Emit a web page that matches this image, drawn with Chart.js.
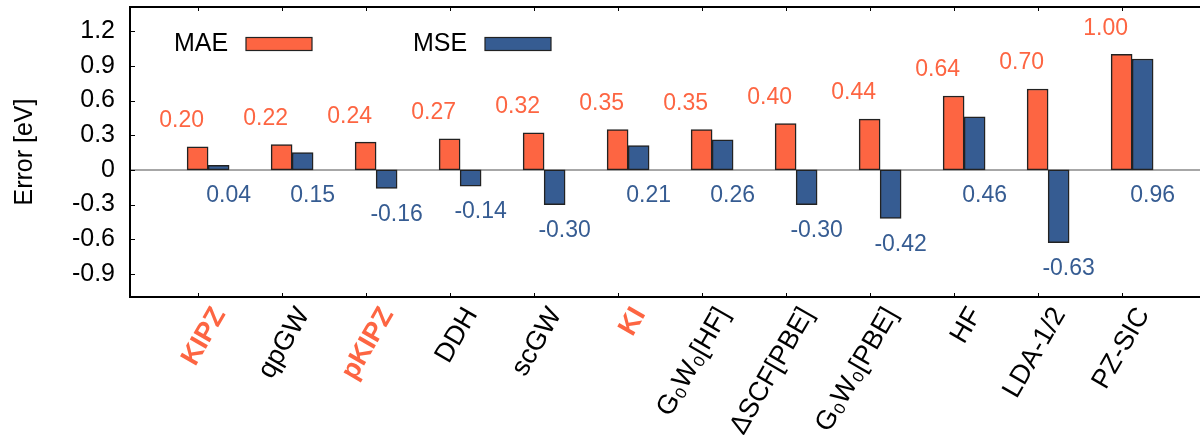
<!DOCTYPE html>
<html>
<head>
<meta charset="utf-8">
<script src="https://cdn.jsdelivr.net/npm/chart.js@4/dist/chart.umd.min.js"></script>
<style>
  html, body { margin: 0; padding: 0; background: #fff; overflow: hidden; }
  #wrap { width: 1200px; height: 435px; }
</style>
</head>
<body>
<div id="wrap"><canvas id="errChart" width="1200" height="435"></canvas></div>
<script>
// --- data ---
const methods = ['KIPZ', 'qpGW', 'pKIPZ', 'DDH', 'scGW', 'KI', 'G\u2080W\u2080[HF]', '\u0394SCF[PBE]', 'G\u2080W\u2080[PBE]', 'HF', 'LDA-1/2', 'PZ-SIC'];
const mae = [0.20, 0.22, 0.24, 0.27, 0.32, 0.35, 0.35, 0.40, 0.44, 0.64, 0.70, 1.00];
const mse = [0.04, 0.15, -0.16, -0.14, -0.30, 0.21, 0.26, -0.30, -0.42, 0.46, -0.63, 0.96];
const highlighted = ['KIPZ', 'pKIPZ', 'KI'];
const yTicks = [-0.9, -0.6, -0.3, 0, 0.3, 0.6, 0.9, 1.2];

const ORANGE = '#fd6542';
const BLUE = '#365c92';
const FONT = "'Liberation Sans', Arial, sans-serif";

const X_MIN = -0.805, X_MAX = 11.933;
const Y_MIN = -1.1, Y_MAX = 1.41;
const BAR_W = 21;
const SHIFT = BAR_W / 84; // MSE bar sits right next to the MAE bar

// frame, inner ticks, zero line, legend, value labels
const framePlugin = {
    id: 'frame',
    beforeDatasetsDraw(chart) {
        const { ctx, chartArea: a, scales } = chart;
        const y0 = scales.y.getPixelForValue(0);
        ctx.save();
        ctx.strokeStyle = '#8a8a8a';
        ctx.lineWidth = 1.5;
        ctx.beginPath();
        ctx.moveTo(a.left, y0);
        ctx.lineTo(a.right, y0);
        ctx.stroke();
        ctx.restore();
    },
    afterDatasetsDraw(chart) {
        const { ctx, scales } = chart;
        ctx.save();
        ctx.font = '23px ' + FONT;
        ctx.textAlign = 'center';
        ctx.textBaseline = 'middle';
        methods.forEach((m, i) => {
            const x = scales.x.getPixelForValue(i);
            ctx.fillStyle = ORANGE;
            ctx.fillText(mae[i].toFixed(2), x - 16, scales.y.getPixelForValue(mae[i]) - 26);
            ctx.fillStyle = BLUE;
            ctx.fillText(mse[i].toFixed(2), x + 31, scales.y.getPixelForValue(Math.min(mse[i], 0)) + 26);
        });
        ctx.restore();
    },
    afterDraw(chart) {
        const { ctx, chartArea: a, scales } = chart;
        ctx.save();
        ctx.strokeStyle = '#000';
        ctx.lineWidth = 2;
        ctx.beginPath();
        ctx.moveTo(a.right + 5, a.top);
        ctx.lineTo(a.left, a.top);
        ctx.lineTo(a.left, a.bottom);
        ctx.lineTo(a.right + 5, a.bottom);
        ctx.stroke();

        ctx.lineWidth = 1;
        ctx.beginPath();
        yTicks.forEach(v => {
            const y = Math.round(scales.y.getPixelForValue(v)) + 0.5;
            ctx.moveTo(a.left, y);
            ctx.lineTo(a.left + 5, y);
        });
        methods.forEach((m, i) => {
            const x = Math.round(scales.x.getPixelForValue(i)) + 0.5;
            ctx.moveTo(x, a.bottom);
            ctx.lineTo(x, a.bottom - 4);
            ctx.moveTo(x, a.top);
            ctx.lineTo(x, a.top + 4);
        });
        ctx.stroke();

        // legend inside the plot
        ctx.font = '25px ' + FONT;
        ctx.textBaseline = 'middle';
        ctx.textAlign = 'left';
        [['MAE', ORANGE, 174, 246], ['MSE', BLUE, 413, 485]].forEach(([txt, col, tx, bx]) => {
            ctx.fillStyle = '#000';
            ctx.fillText(txt, tx, 44);
            ctx.fillStyle = col;
            ctx.fillRect(bx, 37.5, 66, 13);
            ctx.strokeStyle = '#222';
            ctx.lineWidth = 1.2;
            ctx.strokeRect(bx, 37.5, 66, 13);
        });
        ctx.restore();
    }
};

new Chart(document.getElementById('errChart'), {
    type: 'bar',
    data: {
        datasets: [{
            label: 'MAE',
            data: methods.map((m, i) => ({ x: i, y: mae[i] })),
            backgroundColor: ORANGE,
            borderColor: '#222',
            borderWidth: 1.5,
            borderSkipped: false,
            barThickness: BAR_W,
            grouped: false,
            xAxisID: 'x'
        }, {
            label: 'MSE',
            data: methods.map((m, i) => ({ x: i, y: mse[i] })),
            backgroundColor: BLUE,
            borderColor: '#222',
            borderWidth: 1.5,
            borderSkipped: false,
            barThickness: BAR_W,
            grouped: false,
            xAxisID: 'x2'
        }]
    },
    options: {
        responsive: false,
        animation: false,
        layout: { padding: { top: 7, right: 0, left: 0, bottom: 0 } },
        plugins: { legend: { display: false }, tooltip: { enabled: false } },
        scales: {
            x: {
                type: 'linear',
                offset: false,
                min: X_MIN,
                max: X_MAX,
                grid: { display: false, drawTicks: false, offset: false },
                border: { display: false },
                afterBuildTicks: axis => {
                    axis.ticks = methods.map((m, i) => ({ value: i }));
                    axis.min = X_MIN;
                    axis.max = X_MAX;
                },
                afterFit: axis => {
                    axis.height = 138;
                    axis.paddingLeft = 0; axis.paddingRight = 0;
                    axis.paddingTop = 0; axis.paddingBottom = 0;
                },
                ticks: {
                    autoSkip: false,
                    minRotation: 60,
                    maxRotation: 60,
                    padding: 5,
                    labelOffset: 22,
                    callback: (v, i) => methods[i],
                    color: c => highlighted.includes(methods[c.index]) ? ORANGE : '#000',
                    font: c => ({
                        family: FONT,
                        size: 27,
                        weight: highlighted.includes(methods[c.index]) ? 'bold' : 'normal'
                    })
                }
            },
            x2: {
                type: 'linear',
                display: false,
                offset: false,
                grid: { offset: false },
                min: X_MIN - SHIFT,
                max: X_MAX - SHIFT
            },
            y: {
                type: 'linear',
                offset: false,
                min: Y_MIN,
                max: Y_MAX,
                bounds: 'data',
                grid: { display: false, drawTicks: false, offset: false },
                border: { display: false },
                afterDataLimits: axis => { axis.min = Y_MIN; axis.max = Y_MAX; },
                afterBuildTicks: axis => {
                    axis.ticks = yTicks.map(v => ({ value: v }));
                    axis.min = Y_MIN;
                    axis.max = Y_MAX;
                },
                afterFit: axis => {
                    axis.width = 130;
                    axis.paddingTop = 0; axis.paddingBottom = 0;
                    axis.paddingLeft = 0; axis.paddingRight = 0;
                },
                ticks: {
                    padding: 15,
                    color: '#000',
                    font: { family: FONT, size: 25 },
                    callback: v => (v === 0 ? '0' : v.toFixed(1))
                },
                title: {
                    display: true,
                    text: 'Error [eV]',
                    color: '#000',
                    font: { family: FONT, size: 25 },
                    padding: { top: 10, bottom: 0 }
                }
            }
        }
    },
    plugins: [framePlugin]
});
</script>
</body>
</html>
